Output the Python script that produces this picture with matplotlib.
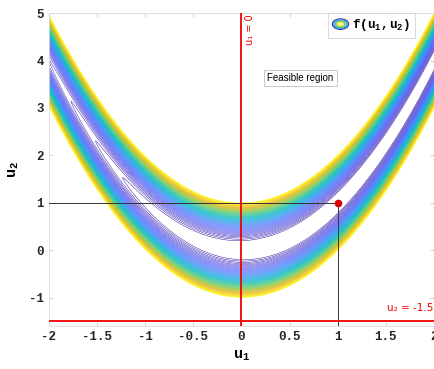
import numpy as np
import matplotlib
matplotlib.use('Agg')
import matplotlib.pyplot as plt
from matplotlib.colors import LinearSegmentedColormap
from matplotlib.legend_handler import HandlerBase
from matplotlib.patches import Ellipse
from matplotlib.lines import Line2D

plt.rcParams['mathtext.fontset'] = 'custom'
plt.rcParams['mathtext.rm'] = 'Liberation Mono:bold'
plt.rcParams['mathtext.it'] = 'Liberation Mono:bold'
plt.rcParams['mathtext.bf'] = 'Liberation Mono:bold'
plt.rcParams['axes.unicode_minus'] = False

# parula-like colour steps (matlab default map)
parula = [(0.2422, 0.1504, 0.6603), (0.2803, 0.2782, 0.9221), (0.2440, 0.4358, 0.9988),
          (0.1540, 0.5902, 0.9218), (0.0297, 0.7082, 0.8163), (0.1540, 0.7654, 0.6390),
          (0.3953, 0.8029, 0.4492), (0.6473, 0.7905, 0.2557), (0.8634, 0.7406, 0.1596),
          (0.9892, 0.8136, 0.1885), (0.9763, 0.9831, 0.0538)]
cmap = LinearSegmentedColormap.from_list('parula', parula)

# f(u1,u2) = rosenbrock, contour levels shown
level_min = 5
level_max = 100
n_levels = 72

x_ticks = [-2, -1.5, -1, -0.5, 0, 0.5, 1, 1.5, 2]
x_labels = ['-2', '-1.5', '-1', '-0.5', '0', '0.5', '1', '1.5', '2']
y_ticks = [-1, 0, 1, 2, 3, 4, 5]

optimum = (1, 1)
u1_bound = 0
u2_bound = -1.5

u1 = np.linspace(-2, 2, 800)
u2 = np.linspace(-1.6, 5, 800)
U1, U2 = np.meshgrid(u1, u2)
F = 100 * (U2 - U1**2)**2 + (1 - U1)**2

fig = plt.figure(figsize=(4.35, 3.69), dpi=100)
ax = fig.add_axes([0.1126, 0.1165, 0.885, 0.848])

ax.contour(U1, U2, F, levels=np.linspace(level_min, level_max, n_levels),
           cmap=cmap, linewidths=0.38)

red = (0.95, 0.0, 0.0)
ax.axvline(u1_bound, color=red, lw=1.3, zorder=5)
ax.axhline(u2_bound, color=red, lw=1.3, zorder=5)
ax.plot([-2, optimum[0]], [optimum[1], optimum[1]], color='0.2', lw=0.7, zorder=4)
ax.plot([optimum[0], optimum[0]], [optimum[1], -1.6], color='0.2', lw=0.7, zorder=4)
ax.plot(optimum[0], optimum[1], 'o', color=(0.85, 0, 0), ms=4.5, zorder=6)

ax.text(0.09, 4.64, 'u₁ = 0', color=red, rotation=90, ha='center', va='center',
        fontsize=7, family=['DejaVu Sans'])
ax.text(1.99, -1.21, 'u₂ = -1.5', color=red, ha='right', va='center',
        fontsize=7.5, family=['DejaVu Sans'])
ax.text(0.61, 3.63, 'Feasible region', ha='center', va='center', fontsize=7,
        family=['Liberation Sans', 'DejaVu Sans'],
        bbox=dict(boxstyle='square,pad=0.35', fc='white', ec='0.75', lw=0.6))


class ContourIcon(HandlerBase):
    def create_artists(self, legend, orig, xd, yd, w, h, fontsize, trans):
        arts = []
        cx, cy = xd + w / 2, yd + h / 2
        for k, t in enumerate([0.0, 0.3, 0.5, 0.7, 0.95]):
            s = 1 - k * 0.17
            arts.append(Ellipse((cx, cy), w * s, h * 1.2 * s, fill=False,
                                edgecolor=cmap(t), lw=0.8, transform=trans))
        return arts


h = Line2D([], [])
leg = ax.legend([h], [r'$\mathrm{f(u_1,u_2)}$'], handler_map={h: ContourIcon()},
                loc='upper right', bbox_to_anchor=(0.95, 1.0), borderaxespad=0,
                fancybox=False, fontsize=9, handlelength=1.3, handletextpad=0.3,
                borderpad=0.35)
leg.get_frame().set_edgecolor('0.8')
leg.get_frame().set_linewidth(0.6)

ax.set_xlim(-2, 2)
ax.set_ylim(-1.6, 5)
ax.set_xticks(x_ticks)
ax.set_xticklabels(x_labels)
ax.set_yticks(y_ticks)
for lab in ax.get_xticklabels() + ax.get_yticklabels():
    lab.set_family(['Liberation Mono', 'DejaVu Sans Mono'])
    lab.set_fontweight('bold')
    lab.set_fontsize(9)
    lab.set_color('0.15')
ax.tick_params(direction='in', top=True, right=True, length=3, color='0.8', width=0.6)
for s in ax.spines.values():
    s.set_color('0.85')
    s.set_linewidth(0.6)

ax.set_xlabel(r'$\mathrm{u_1}$', fontsize=11, labelpad=4)
ax.set_ylabel(r'$\mathrm{u_2}$', fontsize=11, labelpad=6)

plt.savefig('out.png', dpi=100)
